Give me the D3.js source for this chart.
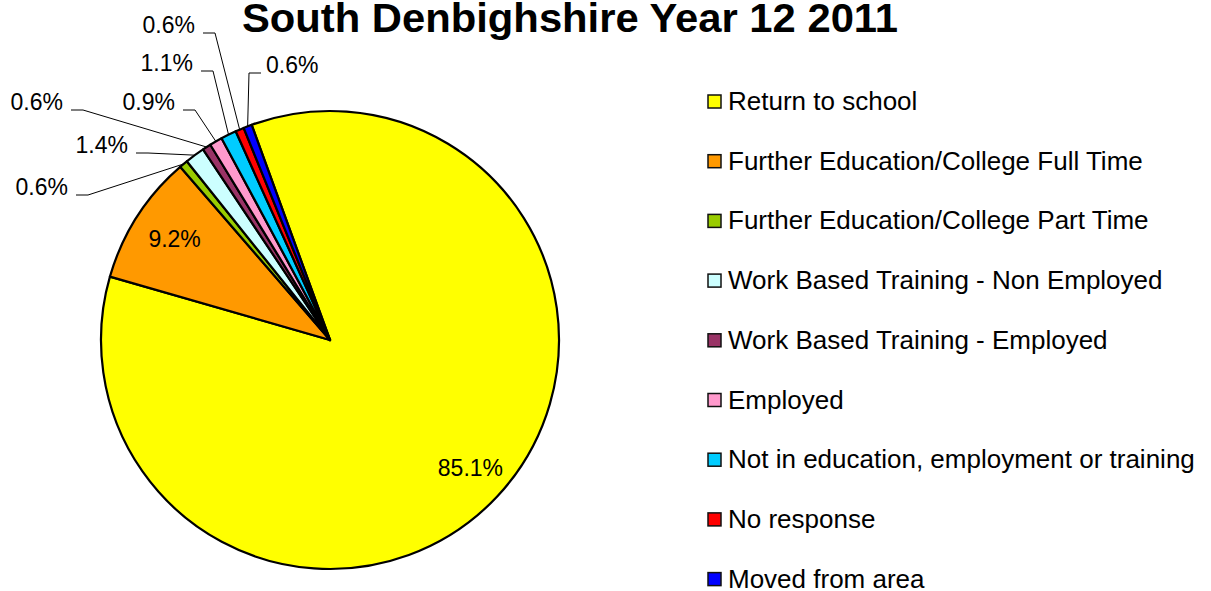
<!DOCTYPE html>
<html lang="en">
<head>
  <meta charset="UTF-8">
  <title>South Denbighshire Year 12 2011</title>
  <script src="https://d3js.org/d3.v7.min.js"></script>
  <style>
    body { margin: 0; background: #fff; }
    svg text { font-family: "Liberation Sans", Arial, sans-serif; fill: #000; }
  </style>
</head>
<body>
  <div id="chart"></div>
  <script>
    const width = 1211;
    const height = 591;

    // data
    const categories = [
      "Return to school",
      "Further Education/College Full Time",
      "Further Education/College Part Time",
      "Work Based Training - Non Employed",
      "Work Based Training - Employed",
      "Employed",
      "Not in education, employment or training",
      "No response",
      "Moved from area"
    ];
    const values = [85.1, 9.2, 0.6, 1.4, 0.6, 0.9, 1.1, 0.6, 0.6];
    const colors = ["#FFFF00", "#FF9900", "#99CC00", "#CCFFFF", "#993366",
                    "#FF99CC", "#00CCFF", "#FF0000", "#0000FF"];

    // where the outside labels sit (text edge x, baseline y), slices 2..8
    const outsideLabels = [
      { i: 2, x: 68,  y: 195, side: "left" },
      { i: 3, x: 128, y: 153, side: "left" },
      { i: 4, x: 63,  y: 110, side: "left" },
      { i: 5, x: 175, y: 110, side: "left" },
      { i: 6, x: 193, y: 71,  side: "left" },
      { i: 7, x: 195, y: 33,  side: "left" },
      { i: 8, x: 266, y: 73,  side: "right" }
    ];

    const cx = 330, cy = 340, radius = 229;
    const startDeg = -20;

    const svg = d3.select("#chart").append("svg")
      .attr("width", width).attr("height", height);

    svg.append("text")
      .attr("x", 570).attr("y", 32)
      .attr("text-anchor", "middle")
      .style("font-size", "40px").style("font-weight", "bold")
      .attr("textLength", 656)
      .attr("lengthAdjust", "spacingAndGlyphs")
      .text("South Denbighshire Year 12 2011");

    const rad = d => d * Math.PI / 180;
    const pie = d3.pie().sort(null).value(d => d)
      .startAngle(rad(startDeg)).endAngle(rad(startDeg + 360));
    const arcs = pie(values);

    const arc = d3.arc().innerRadius(0).outerRadius(radius);
    const edgeArc = d3.arc().innerRadius(radius).outerRadius(radius);
    const labelArc = d3.arc().innerRadius(188).outerRadius(188);

    const g = svg.append("g").attr("transform", `translate(${cx},${cy})`);

    g.selectAll("path.slice")
      .data(arcs)
      .join("path")
      .attr("class", "slice")
      .attr("d", arc)
      .attr("fill", (d, i) => colors[i])
      .attr("stroke", "#000")
      .attr("stroke-width", 2.2)
      .attr("stroke-linejoin", "round");

    // inside labels for the two big slices
    g.selectAll("text.inner")
      .data(arcs.slice(0, 2))
      .join("text")
      .attr("class", "inner")
      .attr("transform", d => {
        const c = labelArc.centroid(d);
        return `translate(${c[0] + 3},${c[1] + 8})`;
      })
      .attr("text-anchor", "middle")
      .style("font-size", "23px")
      .text(d => d.value.toFixed(1) + "%");

    // outside labels with leader lines
    const lab = svg.append("g");
    outsideLabels.forEach(l => {
      const d = arcs[l.i];
      lab.append("text")
        .attr("x", l.x).attr("y", l.y)
        .attr("text-anchor", l.side === "left" ? "end" : "start")
        .style("font-size", "23px")
        .text(d.value.toFixed(1) + "%");

      const e = edgeArc.centroid(d);
      const ex = cx + e[0], ey = cy + e[1];
      const dir = l.side === "left" ? 1 : -1;
      const sx = l.side === "left" ? l.x + 8 : l.x - 5;
      const hx = sx + dir * Math.min(12, Math.abs(ex - sx));
      lab.append("path")
        .attr("d", d3.line()([[sx, l.y], [hx, l.y], [ex, ey]]))
        .attr("fill", "none")
        .attr("stroke", "#000")
        .attr("stroke-width", 1);
    });

    // legend
    const legend = svg.append("g").attr("transform", "translate(708,101)");
    const rows = legend.selectAll("g")
      .data(categories)
      .join("g")
      .attr("transform", (d, i) => `translate(0,${i * 59.7})`);

    rows.append("rect")
      .attr("x", 0).attr("y", -6)
      .attr("width", 13).attr("height", 13)
      .attr("fill", (d, i) => colors[i])
      .attr("stroke", "#111")
      .attr("stroke-width", 1.5);

    rows.append("text")
      .attr("x", 20).attr("y", 9)
      .style("font-size", "26px")
      .text(d => d);
  </script>
</body>
</html>
